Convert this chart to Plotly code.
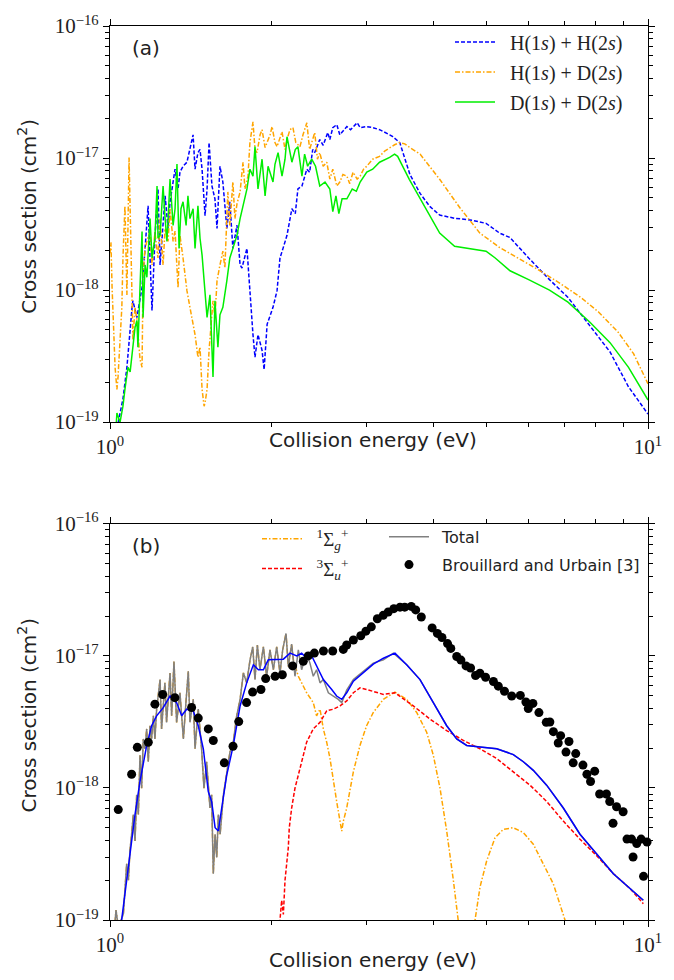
import plotly.graph_objects as go

# ---------------- Panel (a) data: (energy eV, cross section cm^2) ----------------
hh_points = [
    (1.028, 8e-20), (1.035, 9.8e-20), (1.057, 1.5e-19), (1.075, 2.6e-19), (1.099, 7.4e-19), (1.103, 8.3e-19),
    (1.122, 6.2e-19), (1.147, 1.05e-18), (1.162, 2.07e-18), (1.177, 4.35e-18), (1.187, 1.75e-18),
    (1.197, 7.0e-19), (1.212, 2.47e-18), (1.228, 5.83e-18), (1.239, 1.55e-18), (1.255, 3.48e-18),
    (1.266, 5.17e-18), (1.282, 2.93e-18), (1.293, 4.66e-18), (1.321, 8.23e-18), (1.338, 5.83e-18),
    (1.349, 7.82e-18), (1.367, 8.67e-18), (1.390, 9.3e-18), (1.408, 1.16e-17), (1.427, 1.5e-17),
    (1.439, 8.23e-18), (1.457, 1.10e-17), (1.470, 1.16e-17), (1.483, 8.2e-18), (1.502, 3.66e-18),
    (1.515, 5.83e-18), (1.528, 1.31e-17), (1.547, 6.14e-18), (1.567, 4.9e-18), (1.581, 2.93e-18),
    (1.601, 8.67e-18), (1.621, 6.58e-18), (1.649, 2.93e-18), (1.670, 4.66e-18), (1.692, 2.07e-18),
    (1.707, 2.60e-18), (1.722, 3.1e-18), (1.745, 1.55e-18), (1.759, 1.47e-18), (1.797, 2.07e-18),
    (1.820, 9.2e-19), (1.844, 4.6e-19), (1.860, 3.1e-19), (1.884, 4.6e-19), (1.917, 3.5e-19),
    (1.934, 2.5e-19), (1.959, 5.5e-19), (1.984, 6.5e-19), (2.009, 7.4e-19), (2.044, 9.9e-19),
    (2.070, 1.75e-18), (2.097, 2.07e-18), (2.133, 2.60e-18), (2.178, 4.13e-18), (2.21, 3.79e-18),
    (2.235, 5.83e-18), (2.274, 6.14e-18), (2.322, 8.23e-18), (2.35, 7.8e-18), (2.381, 1.16e-17),
    (2.402, 1.10e-17), (2.454, 1.38e-17), (2.49, 1.25e-17), (2.540, 1.56e-17), (2.562, 1.38e-17),
    (2.595, 1.70e-17), (2.640, 1.79e-17), (2.674, 1.50e-17), (2.756, 1.73e-17), (2.80, 1.64e-17),
    (2.880, 1.85e-17), (2.917, 1.70e-17), (3.001, 1.73e-17), (3.078, 1.70e-17), (3.170, 1.64e-17),
    (3.310, 1.50e-17), (3.355, 1.45e-17), (3.456, 1.31e-17), (3.61, 7.5e-18), (3.77, 5.4e-18),
    (3.93, 4.3e-18), (4.10, 3.7e-18), (4.37, 3.5e-18), (4.67, 3.4e-18), (5.0, 3.2e-18), (5.3, 2.7e-18),
    (5.54, 2.5e-18), (6.0, 1.75e-18), (6.56, 1.2e-18), (7.1, 8.8e-19), (7.8, 5.4e-19), (8.5, 3.4e-19),
    (9.2, 1.85e-19), (10.0, 1.15e-19),
]

hd_points = [
    (1.000, 1.9e-18), (1.004, 2.3e-18), (1.009, 1.04e-18), (1.013, 6.5e-19), (1.022, 2.6e-19),
    (1.030, 1.77e-19), (1.035, 2.2e-19), (1.044, 4.2e-19), (1.052, 7.4e-19), (1.057, 1.75e-18),
    (1.066, 4.35e-18), (1.075, 9.2e-19), (1.085, 1.01e-17), (1.094, 2.07e-18), (1.103, 4.2e-19),
    (1.113, 7.4e-19), (1.122, 6.0e-19), (1.137, 3.0e-19), (1.147, 2.6e-19), (1.152, 1.30e-18),
    (1.162, 2.07e-18), (1.171, 2.34e-18), (1.187, 2.8e-18), (1.197, 1.55e-18), (1.212, 2.75e-18),
    (1.228, 1.75e-18), (1.239, 3.48e-18), (1.255, 1.55e-18), (1.266, 2.93e-18), (1.282, 2.34e-18),
    (1.293, 4.13e-18), (1.31, 2.34e-18), (1.321, 2.8e-18), (1.338, 1.04e-18), (1.349, 2.6e-18),
    (1.367, 1.75e-18), (1.390, 9.9e-19), (1.408, 7.4e-19), (1.427, 5.5e-19), (1.439, 4.6e-19),
    (1.457, 3.1e-19), (1.470, 3.7e-19), (1.483, 1.77e-19), (1.496, 1.32e-19), (1.502, 1.4e-19),
    (1.515, 1.77e-19), (1.528, 3.5e-19), (1.534, 4.2e-19), (1.554, 8.3e-19), (1.567, 6.2e-19),
    (1.581, 1.18e-18), (1.601, 1.55e-18), (1.621, 1.97e-18), (1.635, 1.47e-18), (1.656, 5.54e-18),
    (1.670, 3.09e-18), (1.692, 6.58e-18), (1.707, 3.48e-18), (1.722, 4.5e-18), (1.745, 5.54e-18),
    (1.767, 9.3e-18), (1.782, 5.83e-18), (1.805, 7.3e-18), (1.820, 1.31e-17), (1.844, 1.88e-17),
    (1.860, 1.16e-17), (1.876, 1.10e-17), (1.901, 1.50e-17), (1.917, 1.64e-17), (1.942, 1.20e-17),
    (1.959, 1.31e-17), (1.984, 1.50e-17), (2.001, 1.73e-17), (2.026, 1.31e-17), (2.044, 1.22e-17),
    (2.070, 1.45e-17), (2.088, 1.58e-17), (2.115, 1.16e-17), (2.133, 1.38e-17), (2.16, 1.64e-17),
    (2.188, 1.70e-17), (2.215, 1.31e-17), (2.255, 1.22e-17), (2.284, 1.50e-17), (2.322, 1.85e-17),
    (2.35, 1.16e-17), (2.371, 1.31e-17), (2.402, 1.56e-17), (2.43, 9.8e-18), (2.454, 1.10e-17),
    (2.49, 8.67e-18), (2.529, 9.3e-18), (2.562, 6.93e-18), (2.595, 8.23e-18), (2.640, 6.14e-18),
    (2.674, 6.58e-18), (2.71, 7.5e-18), (2.756, 7.30e-18), (2.79, 6.4e-18), (2.830, 7.82e-18),
    (2.88, 6.93e-18), (2.917, 7.30e-18), (2.96, 8.23e-18), (3.001, 8.67e-18), (3.078, 9.8e-18),
    (3.170, 1.03e-17), (3.24, 1.13e-17), (3.310, 1.20e-17), (3.38, 1.26e-17), (3.456, 1.31e-17),
    (3.53, 1.28e-17), (3.61, 1.20e-17), (3.77, 1.07e-17), (4.10, 6.9e-18), (4.47, 4.2e-18),
    (4.87, 2.7e-18), (5.3, 2.1e-18), (5.8, 1.7e-18), (6.3, 1.4e-18), (6.85, 1.13e-18), (7.5, 8.8e-19),
    (8.1, 6.8e-19), (8.8, 4.8e-19), (9.4, 3.3e-19), (10.0, 1.95e-19),
]

dd_points = [
    (1.026, 9.0e-20), (1.030, 1.17e-19), (1.044, 1.0e-19), (1.057, 1.32e-19), (1.066, 1.77e-19),
    (1.080, 2.6e-19), (1.09, 2.4e-19), (1.099, 3.3e-19), (1.113, 5.2e-19), (1.122, 5.9e-19),
    (1.127, 3.7e-19), (1.137, 1.04e-18), (1.147, 2.78e-18), (1.152, 6.2e-19), (1.162, 1.55e-18),
    (1.171, 1.25e-18), (1.187, 3.48e-18), (1.197, 1.75e-18), (1.212, 2.47e-18), (1.223, 6.14e-18),
    (1.228, 2.47e-18), (1.239, 2.6e-18), (1.255, 6.14e-18), (1.266, 3.48e-18), (1.276, 2.34e-18),
    (1.293, 6.93e-18), (1.31, 3.09e-18), (1.321, 4.13e-18), (1.332, 9.0e-18), (1.344, 2.07e-18),
    (1.355, 4.13e-18), (1.367, 4.66e-18), (1.385, 3.09e-18), (1.396, 5.17e-18), (1.408, 3.48e-18),
    (1.427, 4.13e-18), (1.439, 2.07e-18), (1.457, 4.35e-18), (1.470, 2.47e-18), (1.483, 1.84e-18),
    (1.502, 9.2e-19), (1.515, 6.2e-19), (1.534, 9.2e-19), (1.554, 2.2e-19), (1.567, 8.3e-19),
    (1.587, 3.7e-19), (1.601, 6.5e-19), (1.621, 7.4e-19), (1.649, 1.18e-18), (1.670, 1.75e-18),
    (1.692, 2.07e-18), (1.722, 2.60e-18), (1.745, 3.48e-18), (1.767, 4.35e-18), (1.797, 5.83e-18),
    (1.82, 8.23e-18), (1.844, 7.3e-18), (1.860, 1.22e-17), (1.884, 5.83e-18), (1.917, 9.8e-18),
    (1.942, 5.17e-18), (1.967, 8.67e-18), (2.009, 6.58e-18), (2.026, 8.97e-18), (2.053, 1.10e-17),
    (2.088, 7.3e-18), (2.115, 9.8e-18), (2.133, 1.45e-17), (2.178, 9.3e-18), (2.21, 1.16e-17),
    (2.235, 1.22e-17), (2.274, 7.3e-18), (2.30, 1.07e-17), (2.33, 8.67e-18), (2.371, 9.8e-18),
    (2.41, 8.67e-18), (2.454, 6.14e-18), (2.51, 6.58e-18), (2.562, 5.83e-18), (2.595, 3.93e-18),
    (2.63, 5.17e-18), (2.663, 3.79e-18), (2.70, 4.91e-18), (2.756, 4.91e-18), (2.82, 5.83e-18),
    (2.87, 5.6e-18), (2.917, 6.58e-18), (3.001, 7.82e-18), (3.078, 8.23e-18), (3.170, 9.3e-18),
    (3.310, 1.01e-17), (3.38, 1.07e-17), (3.425, 1.03e-17), (3.6, 6.9e-18), (3.85, 4.2e-18),
    (4.1, 2.7e-18), (4.37, 2.15e-18), (4.67, 2.05e-18), (5.0, 1.97e-18), (5.2, 1.75e-18),
    (5.54, 1.4e-18), (6.0, 1.2e-18), (6.56, 1.0e-18), (7.1, 8.1e-19), (7.8, 5.7e-19), (8.5, 4.0e-19),
    (9.2, 2.6e-19), (10.0, 1.47e-19),
]

# ---------------- Panel (b) data ----------------
total_points = [
    (1.018, 8e-20), (1.022, 1.0e-19), (1.026, 1.19e-19), (1.032, 1.0e-19), (1.04, 9e-20),
    (1.059, 1.12e-19), (1.074, 2.66e-19), (1.082, 2.0e-19), (1.089, 3.34e-19), (1.097, 4.46e-19),
    (1.105, 6.29e-19), (1.113, 3.97e-19), (1.121, 8.87e-19), (1.129, 6.29e-19), (1.137, 1.77e-18),
    (1.145, 9.95e-19), (1.153, 2.35e-18), (1.162, 1.98e-18), (1.170, 2.80e-18), (1.178, 1.58e-18),
    (1.187, 2.96e-18), (1.195, 2.35e-18), (1.204, 3.52e-18), (1.212, 2.35e-18), (1.221, 3.95e-18),
    (1.239, 6.62e-18), (1.247, 2.80e-18), (1.265, 6.25e-18), (1.274, 3.14e-18), (1.293, 7.43e-18),
    (1.302, 3.52e-18), (1.315, 9.08e-18), (1.330, 3.14e-18), (1.349, 5.26e-18), (1.369, 2.35e-18),
    (1.384, 4.43e-18), (1.398, 7.64e-18), (1.408, 3.14e-18), (1.428, 4.69e-18), (1.439, 1.98e-18),
    (1.459, 3.95e-18), (1.480, 1.98e-18), (1.495, 9.95e-19), (1.512, 1.58e-18), (1.534, 7.05e-19),
    (1.545, 8.87e-19), (1.556, 2.24e-19), (1.568, 4.46e-19), (1.579, 2.98e-19), (1.590, 6.29e-19),
    (1.602, 4.46e-19), (1.625, 8.87e-19), (1.648, 1.25e-18), (1.671, 1.87e-18), (1.695, 2.22e-18),
    (1.720, 3.52e-18), (1.745, 4.69e-18), (1.770, 7.43e-18), (1.795, 6.25e-18), (1.821, 9.34e-18),
    (1.842, 1.17e-17), (1.860, 6.62e-18), (1.879, 1.21e-17), (1.900, 7.86e-18), (1.928, 1.17e-17),
    (1.955, 7.01e-18), (1.983, 1.11e-17), (2.012, 7.86e-18), (2.041, 1.17e-17), (2.070, 7.43e-18),
    (2.094, 1.11e-17), (2.124, 1.48e-17), (2.145, 8.33e-18), (2.176, 1.23e-17), (2.207, 7.01e-18),
    (2.239, 1.11e-17), (2.271, 7.86e-18), (2.320, 1.05e-17), (2.353, 8.82e-18), (2.387, 7.01e-18),
    (2.421, 7.86e-18), (2.457, 6.25e-18), (2.492, 6.62e-18), (2.546, 5.26e-18), (2.601, 4.97e-18),
    (2.657, 4.69e-18), (2.696, 4.43e-18), (2.754, 5.5e-18), (2.834, 6.62e-18), (2.957, 7.64e-18),
    (3.086, 8.82e-18), (3.222, 9.34e-18), (3.363, 1.05e-17), (3.56, 8.57e-18), (3.769, 6.62e-18),
    (3.990, 4.43e-18), (4.225, 2.96e-18), (4.410, 2.35e-18), (4.603, 2.10e-18), (4.873, 2.04e-18),
    (5.234, 1.98e-18), (5.619, 1.79e-18), (5.865, 1.58e-18), (6.121, 1.36e-18), (6.480, 1.05e-18),
    (6.960, 7.05e-19), (7.474, 4.46e-19), (8.028, 3.16e-19), (8.622, 2.24e-19), (9.259, 1.73e-19),
    (9.801, 1.41e-19),
]

smooth_points = [
    (1.044, 7e-20), (1.051, 1.0e-19), (1.074, 2.0e-19), (1.113, 6.29e-19), (1.137, 1.12e-18),
    (1.170, 2.10e-18), (1.195, 2.96e-18), (1.221, 3.52e-18), (1.256, 4.06e-18), (1.293, 4.97e-18),
    (1.330, 4.43e-18), (1.359, 3.52e-18), (1.388, 3.95e-18), (1.428, 3.84e-18), (1.459, 2.96e-18),
    (1.491, 1.98e-18), (1.523, 9.4e-19), (1.545, 7.91e-19), (1.568, 5.0e-19), (1.590, 4.72e-19),
    (1.613, 7.05e-19), (1.648, 1.25e-18), (1.695, 2.10e-18), (1.745, 4.18e-18), (1.795, 6.25e-18),
    (1.847, 8.57e-18), (1.887, 7.86e-18), (1.928, 7.86e-18), (1.969, 9.34e-18), (2.026, 9.34e-18),
    (2.100, 9.45e-18), (2.161, 1.05e-17), (2.224, 1.0e-17), (2.271, 1.05e-17), (2.320, 9.61e-18),
    (2.371, 1.0e-17), (2.421, 8.33e-18), (2.492, 6.62e-18), (2.583, 5.57e-18), (2.638, 4.97e-18),
    (2.696, 4.69e-18), (2.754, 5.26e-18), (2.834, 6.43e-18), (2.957, 7.43e-18), (3.086, 8.67e-18),
    (3.222, 9.61e-18), (3.386, 1.05e-17), (3.560, 8.57e-18), (3.769, 6.62e-18), (3.990, 4.43e-18),
    (4.225, 2.96e-18), (4.410, 2.35e-18), (4.603, 2.10e-18), (4.873, 2.04e-18), (5.234, 1.98e-18),
    (5.619, 1.79e-18), (5.865, 1.58e-18), (6.121, 1.36e-18), (6.480, 1.05e-18), (6.960, 7.05e-19),
    (7.474, 4.46e-19), (8.028, 3.16e-19), (8.622, 2.24e-19), (9.259, 1.73e-19), (9.801, 1.41e-19),
]

# 1Sigma_g+ : follows the total at low energy (values shared with total), then its own part
sigma_g_points = [p for p in total_points if p[0] <= 2.18] + [
    (2.192, 9.34e-18), (2.239, 7.01e-18), (2.320, 5.26e-18), (2.387, 4.43e-18), (2.421, 3.52e-18),
    (2.457, 3.95e-18), (2.492, 2.80e-18), (2.528, 2.22e-18), (2.564, 1.67e-18), (2.601, 1.12e-18),
    (2.638, 7.91e-19), (2.676, 5.61e-19), (2.696, 4.72e-19), (2.715, 5.61e-19), (2.754, 7.05e-19),
    (2.834, 1.33e-18), (2.915, 2.10e-18), (2.999, 2.96e-18), (3.086, 3.73e-18), (3.222, 4.69e-18),
    (3.363, 5.26e-18), (3.386, 5.32e-18), (3.560, 4.69e-18), (3.716, 3.73e-18), (3.878, 2.64e-18),
    (3.990, 1.77e-18), (4.106, 9.95e-19), (4.225, 4.72e-19), (4.347, 2.0e-19), (4.441, 1.0e-19),
    (4.51, 5e-20), (4.60, 3e-20), (4.70, 5e-20), (4.770, 1.0e-19), (4.873, 1.78e-19), (5.014, 2.81e-19),
    (5.196, 4.2e-19), (5.383, 4.86e-19), (5.619, 5.0e-19), (5.865, 4.59e-19), (6.121, 3.75e-19),
    (6.389, 2.66e-19), (6.668, 1.88e-19), (7.010, 1.0e-19), (7.2, 6e-20),
]

sigma_u_points = [
    (2.064, 5e-20), (2.070, 1.0e-19), (2.085, 1.41e-19), (2.100, 1.1e-19), (2.115, 2.0e-19),
    (2.130, 2.66e-19), (2.145, 3.54e-19), (2.154, 5.0e-19), (2.176, 7.05e-19), (2.207, 9.95e-19),
    (2.255, 1.40e-18), (2.320, 2.22e-18), (2.387, 2.80e-18), (2.457, 3.14e-18), (2.528, 3.84e-18),
    (2.601, 3.95e-18), (2.676, 4.18e-18), (2.754, 4.56e-18), (2.834, 5.26e-18), (2.915, 5.73e-18),
    (2.999, 5.57e-18), (3.086, 5.41e-18), (3.222, 5.11e-18), (3.386, 5.26e-18), (3.663, 4.18e-18),
    (3.934, 3.32e-18), (4.225, 2.72e-18), (4.537, 2.29e-18), (4.873, 1.98e-18), (5.234, 1.67e-18),
    (5.619, 1.33e-18), (6.035, 1.05e-18), (6.480, 7.91e-19), (6.960, 5.61e-19), (7.474, 4.09e-19),
    (8.028, 3.07e-19), (8.622, 2.24e-19), (9.259, 1.73e-19), (9.801, 1.33e-19),
]

brouillard_E = [
    1.036, 1.097, 1.124, 1.178, 1.212, 1.253, 1.32, 1.418, 1.459, 1.523, 1.556, 1.631, 1.693, 1.735,
    1.794, 1.841, 1.908, 1.947, 2.027, 2.091, 2.185, 2.287, 2.336, 2.398, 2.493, 2.594, 2.714, 2.754,
    2.834, 2.925, 2.99, 3.06, 3.14, 3.22, 3.29, 3.37, 3.46, 3.53, 3.63, 3.70, 3.79, 3.97, 4.06, 4.14,
    4.24, 4.30, 4.41, 4.49, 4.59, 4.68, 4.78, 4.87, 4.99, 5.16, 5.27, 5.41, 5.58, 5.79, 5.93, 5.99,
    6.11, 6.27, 6.47, 6.57, 6.67, 6.81, 6.88, 7.04, 7.13, 7.26, 7.34, 7.57, 7.70, 7.82, 7.96, 8.13,
    8.37, 8.49, 8.61, 8.74, 8.99, 9.14, 9.32, 9.38, 9.53, 9.71, 9.81, 9.96,
]
brouillard_sigma = [
    6.86e-19, 1.27e-18, 2.03e-18, 2.22e-18, 4.31e-18, 5.1e-18, 4.83e-18, 4.07e-18, 3.38e-18, 2.8e-18,
    2.29e-18, 1.55e-18, 2.07e-18, 3.18e-18, 4.43e-18, 5.32e-18, 5.57e-18, 6.73e-18, 7.0e-18, 7.2e-18,
    8.4e-18, 9.1e-18, 1.0e-17, 1.05e-17, 1.09e-17, 1.09e-17, 1.12e-17, 1.21e-17, 1.32e-17, 1.42e-17,
    1.54e-17, 1.66e-17, 1.91e-17, 2.03e-17, 2.15e-17, 2.28e-17, 2.34e-17, 2.34e-17, 2.37e-17, 2.23e-17,
    1.97e-17, 1.63e-17, 1.48e-17, 1.38e-17, 1.24e-17, 1.14e-17, 9.9e-18, 9.3e-18, 8.4e-18, 8.1e-18,
    7.1e-18, 7.4e-18, 6.9e-18, 6.4e-18, 5.9e-18, 5.4e-18, 4.97e-18, 5.02e-18, 4.48e-18, 3.99e-18,
    4.37e-18, 3.72e-18, 3.14e-18, 3.16e-18, 2.67e-18, 2.19e-18, 2.49e-18, 1.87e-18, 2.25e-18, 1.55e-18,
    1.82e-18, 1.49e-18, 1.27e-18, 1.12e-18, 1.34e-18, 9.0e-19, 9.0e-19, 7.9e-19, 5.4e-19, 7.2e-19,
    6.6e-19, 4.1e-19, 4.1e-19, 3.0e-19, 3.8e-19, 4.1e-19, 2.14e-19, 3.9e-19,
]

x_ticks = [1, 10]
x_ticktext = ["10<sup>0</sup>", "10<sup>1</sup>"]
y_ticks = [1e-19, 1e-18, 1e-17, 1e-16]
y_ticktext = ["10<sup>\u221219</sup>", "10<sup>\u221218</sup>", "10<sup>\u221217</sup>", "10<sup>\u221216</sup>"]
x_minor = [2, 3, 4, 5, 6, 7, 8, 9]
y_minor = [m * 10.0 ** e for e in (-19, -18, -17) for m in range(2, 10)]

SP = "\u2002"
legend_a = [SP + "H(1<i>s</i>) + H(2<i>s</i>)", SP + "H(1<i>s</i>) + D(2<i>s</i>)", SP + "D(1<i>s</i>) + D(2<i>s</i>)"]
legend_b = [SP + "<sup>1</sup>\u03a3<sub><i>g</i></sub><sup>+</sup>", SP + "<sup>3</sup>\u03a3<sub><i>u</i></sub><sup>+</sup>",
            SP + "Total", SP + "Brouillard and Urbain [3]"]

SERIF = "Liberation Serif"
SANS = "DejaVu Sans"


def xs(pts):
    return [p[0] for p in pts]


def ys(pts):
    return [p[1] for p in pts]


fig = go.Figure()
LW = 1.5
DASH = "4px,2px"
DASHDOT = "5px,2px,1.5px,2px"

# panel (a)
fig.add_trace(go.Scatter(x=xs(hh_points), y=ys(hh_points), mode="lines", name=legend_a[0],
                         line=dict(color="#0000ff", width=LW, dash=DASH), xaxis="x", yaxis="y",
                         legend="legend", legendgroup="a1"))
fig.add_trace(go.Scatter(x=xs(hd_points), y=ys(hd_points), mode="lines", name=legend_a[1],
                         line=dict(color="#ffa500", width=LW, dash=DASHDOT), xaxis="x", yaxis="y",
                         legend="legend", legendgroup="a2"))
fig.add_trace(go.Scatter(x=xs(dd_points), y=ys(dd_points), mode="lines", name=legend_a[2],
                         line=dict(color="#00ee00", width=LW), xaxis="x", yaxis="y",
                         legend="legend", legendgroup="a3"))

# panel (b)
fig.add_trace(go.Scatter(x=xs(sigma_g_points), y=ys(sigma_g_points), mode="lines", name=legend_b[0],
                         line=dict(color="#ffa500", width=LW, dash=DASHDOT), xaxis="x2", yaxis="y2",
                         legend="legend2", legendgroup="b1"))
fig.add_trace(go.Scatter(x=xs(sigma_u_points), y=ys(sigma_u_points), mode="lines", name=legend_b[1],
                         line=dict(color="#ff0000", width=LW, dash=DASH), xaxis="x2", yaxis="y2",
                         legend="legend2", legendgroup="b2"))
fig.add_trace(go.Scatter(x=xs(total_points), y=ys(total_points), mode="lines", name=legend_b[2],
                         line=dict(color="#808080", width=LW), xaxis="x2", yaxis="y2",
                         legend="legend3", legendgroup="b3"))
fig.add_trace(go.Scatter(x=xs(smooth_points), y=ys(smooth_points), mode="lines", showlegend=False,
                         line=dict(color="#0000ff", width=LW), xaxis="x2", yaxis="y2"))
fig.add_trace(go.Scatter(x=brouillard_E, y=brouillard_sigma, mode="markers", name=legend_b[3],
                         marker=dict(color="black", size=9), xaxis="x2", yaxis="y2", cliponaxis=False,
                         legend="legend3", legendgroup="b4"))

axis_common = dict(type="log", showgrid=False, zeroline=False, showline=True, linecolor="black",
                   linewidth=1.2, mirror="allticks", ticks="outside", ticklen=6, tickwidth=1.2,
                   tickcolor="black", tickfont=dict(family=SERIF, size=21, color="#222"))
xaxis_cfg = dict(axis_common, range=[0, 1], tickmode="array", tickvals=x_ticks, ticktext=x_ticktext,
                 minor=dict(tickmode="array", tickvals=x_minor, ticks="outside", ticklen=3.5,
                            tickwidth=1, tickcolor="black"))
yaxis_cfg = dict(axis_common, range=[-19, -16], tickmode="array", tickvals=y_ticks, ticktext=y_ticktext,
                 minor=dict(tickmode="array", tickvals=y_minor, ticks="outside", ticklen=3.5,
                            tickwidth=1, tickcolor="black"))

H_TOT = 905.0


def py2paper(py):
    return (920 - py) / H_TOT


def px2paper(px):
    return (px - 110) / 538.0


fig.update_layout(
    width=674, height=980,
    margin=dict(l=110, r=26, t=15, b=60),
    plot_bgcolor="white", paper_bgcolor="white",
    xaxis=dict(xaxis_cfg, anchor="y", domain=[0, 1]),
    yaxis=dict(yaxis_cfg, anchor="x", domain=[504 / H_TOT, 1]),
    xaxis2=dict(xaxis_cfg, anchor="y2", domain=[0, 1]),
    yaxis2=dict(yaxis_cfg, anchor="x2", domain=[0, 401 / H_TOT]),
    legend=dict(x=px2paper(450), y=1.004, xanchor="left", yanchor="top", bgcolor="rgba(0,0,0,0)",
                font=dict(family=SERIF, size=20, color="#222"), itemwidth=40,
                traceorder="grouped", tracegroupgap=1),
    legend2=dict(x=px2paper(257), y=py2paper(515), xanchor="left", yanchor="top", bgcolor="rgba(0,0,0,0)",
                 font=dict(family=SERIF, size=19, color="#222"), itemwidth=40,
                 traceorder="grouped", tracegroupgap=2),
    legend3=dict(x=px2paper(384), y=py2paper(515), xanchor="left", yanchor="top", bgcolor="rgba(0,0,0,0)",
                 font=dict(family=SANS, size=16, color="#222"), itemwidth=40,
                 traceorder="grouped", tracegroupgap=4),
    showlegend=True,
)

ann_font = dict(family=SANS, size=20, color="#222")
annotations = [
    dict(text="Collision energy (eV)", x=px2paper(373), y=py2paper(434), xref="paper", yref="paper",
         showarrow=False, font=ann_font, xanchor="center", yanchor="middle"),
    dict(text="Collision energy (eV)", x=px2paper(373), y=py2paper(960), xref="paper", yref="paper",
         showarrow=False, font=ann_font, xanchor="center", yanchor="middle"),
    dict(text="Cross section (cm<sup>2</sup>)", x=px2paper(27), y=py2paper(208), xref="paper", yref="paper",
         showarrow=False, font=ann_font, textangle=-90, xanchor="center", yanchor="middle"),
    dict(text="Cross section (cm<sup>2</sup>)", x=px2paper(27), y=py2paper(713), xref="paper", yref="paper",
         showarrow=False, font=ann_font, textangle=-90, xanchor="center", yanchor="middle"),
    dict(text="(a)", x=px2paper(146), y=py2paper(37), xref="paper", yref="paper",
         showarrow=False, font=dict(family=SANS, size=20, color="#222"), xanchor="center", yanchor="middle"),
    dict(text="(b)", x=px2paper(146), y=py2paper(541), xref="paper", yref="paper",
         showarrow=False, font=dict(family=SANS, size=20, color="#222"), xanchor="center", yanchor="middle"),
]
fig.update_layout(annotations=annotations)

fig.write_html("out.html")
